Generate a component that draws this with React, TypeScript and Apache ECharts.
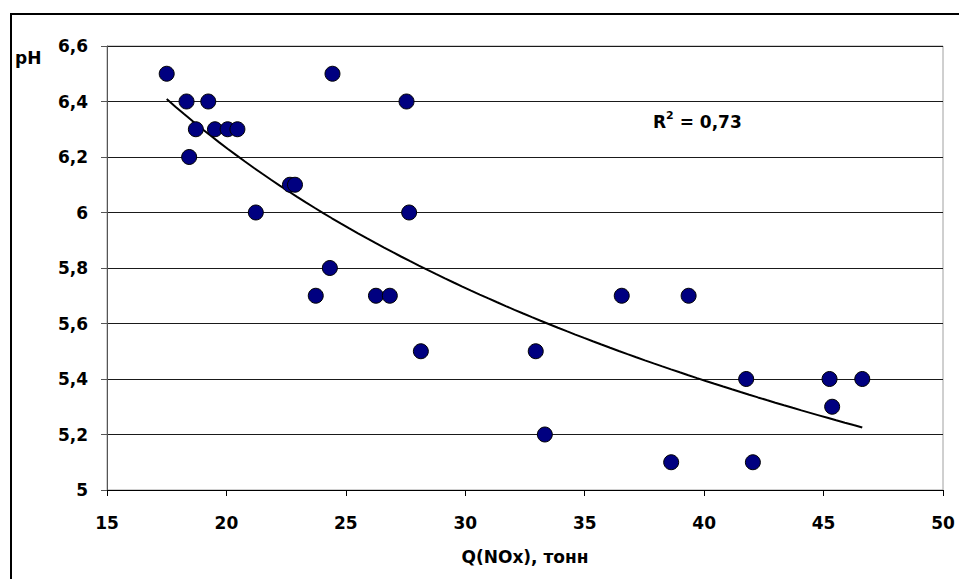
import React, { useEffect, useRef } from "react";
import * as echarts from "echarts";

const qNOx = [17.5, 18.33, 19.24, 18.72, 19.52, 20.05, 20.46, 18.44, 22.66, 22.87, 21.23, 24.44, 27.54, 27.65, 24.33, 23.74, 26.26, 26.84, 28.14, 32.95, 33.33, 36.55, 39.35, 41.76, 45.25, 46.62, 45.36, 38.62, 42.04];
const pH = [6.5, 6.4, 6.4, 6.3, 6.3, 6.3, 6.3, 6.2, 6.1, 6.1, 6.0, 6.5, 6.4, 6.0, 5.8, 5.7, 5.7, 5.7, 5.5, 5.5, 5.2, 5.7, 5.7, 5.4, 5.4, 5.4, 5.3, 5.1, 5.1];
const xTicks = [15, 20, 25, 30, 35, 40, 45, 50];
const yTicks = [5, 5.2, 5.4, 5.6, 5.8, 6, 6.2, 6.4, 6.6];
const xTitle = "Q(NOx), тонн";
const yTitle = "pH";
const r2Value = "0,73";

// power trendline (least squares on logs), as Excel does
function powerTrend(xs: number[], ys: number[], steps: number) {
  const n = xs.length;
  let sx = 0, sy = 0, sxx = 0, sxy = 0;
  for (let i = 0; i < n; i++) {
    const lx = Math.log(xs[i]);
    const ly = Math.log(ys[i]);
    sx += lx; sy += ly; sxx += lx * lx; sxy += lx * ly;
  }
  const b = (n * sxy - sx * sy) / (n * sxx - sx * sx);
  const a = Math.exp((sy - b * sx) / n);
  const xmin = Math.min(...xs);
  const xmax = Math.max(...xs);
  const pts: number[][] = [];
  for (let i = 0; i <= steps; i++) {
    const x = xmin + ((xmax - xmin) * i) / steps;
    pts.push([x, a * Math.pow(x, b)]);
  }
  return pts;
}

const FONT = "DejaVu Sans, Liberation Sans, Arial, sans-serif";
const FS = 17;

export default function App() {
  const ref = useRef<HTMLDivElement>(null);
  useEffect(() => {
    if (!ref.current) return;
    const chart = echarts.init(ref.current, undefined, { renderer: "svg" });
    const scatterData = qNOx.map((x, i) => [x, pH[i]]);
    const trend = powerTrend(qNOx, pH, 80);
    chart.setOption({
      animation: false,
      backgroundColor: "#ffffff",
      grid: {
        left: 107,
        top: 46,
        right: 16,
        bottom: 89,
        show: true,
        borderColor: "#a0a0a0",
        borderWidth: 1,
        backgroundColor: "transparent",
      },
      xAxis: {
        type: "value",
        min: xTicks[0],
        max: xTicks[xTicks.length - 1],
        interval: 5,
        name: xTitle,
        nameLocation: "middle",
        nameGap: 58,
        nameTextStyle: { fontFamily: FONT, fontWeight: "bold", fontSize: FS, color: "#000" },
        axisLine: { show: true, lineStyle: { color: "#000", width: 1 } },
        axisTick: { show: true, inside: false, length: 6, lineStyle: { color: "#000" } },
        axisLabel: {
          margin: 24,
          fontFamily: FONT,
          fontWeight: "bold",
          fontSize: FS,
          color: "#000",
        },
        splitLine: { show: false },
      },
      yAxis: {
        type: "value",
        min: yTicks[0],
        max: yTicks[yTicks.length - 1],
        interval: 0.2,
        axisLine: { show: true, lineStyle: { color: "#555", width: 1 } },
        axisTick: { show: true, inside: false, length: 6, lineStyle: { color: "#555" } },
        axisLabel: {
          margin: 19,
          fontFamily: FONT,
          fontWeight: "bold",
          fontSize: FS,
          color: "#000",
          formatter: (v: number) => String(+v.toFixed(1)).replace(".", ","),
        },
        splitLine: { show: true, lineStyle: { color: "#1a1a1a", width: 1 } },
      },
      series: [
        {
          type: "line",
          data: trend,
          showSymbol: false,
          symbol: "none",
          smooth: false,
          lineStyle: { color: "#000", width: 2 },
          z: 2,
        },
        {
          type: "scatter",
          data: scatterData,
          symbol: "circle",
          symbolSize: 15,
          itemStyle: { color: "#000080", borderColor: "#000", borderWidth: 1, opacity: 1 },
          z: 3,
        },
      ],
      graphic: [
        {
          type: "rect",
          shape: { x: 11, y: 14, width: 960, height: 600 },
          style: { fill: "none", stroke: "#000", lineWidth: 2 },
          silent: true,
        },
        {
          type: "text",
          x: 15,
          y: 49,
          style: {
            text: yTitle,
            fontFamily: FONT,
            fontWeight: "bold",
            fontSize: FS,
            fill: "#000",
          },
        },
        {
          type: "text",
          x: 653,
          y: 110,
          style: {
            text: "{r|R}{s|2}{r| = " + r2Value + "}",
            rich: {
              r: { fontFamily: FONT, fontWeight: "bold", fontSize: FS, fill: "#000", verticalAlign: "bottom", lineHeight: 20 },
              s: { fontFamily: FONT, fontWeight: "bold", fontSize: 11, fill: "#000", verticalAlign: "top", lineHeight: 20, padding: [0, 0, 8, 0] },
            },
          },
        },
      ],
    });
    return () => chart.dispose();
  }, []);
  return (
    <div
      ref={ref}
      style={{ position: "absolute", left: 0, top: 0, width: 959, height: 579 }}
    />
  );
}
